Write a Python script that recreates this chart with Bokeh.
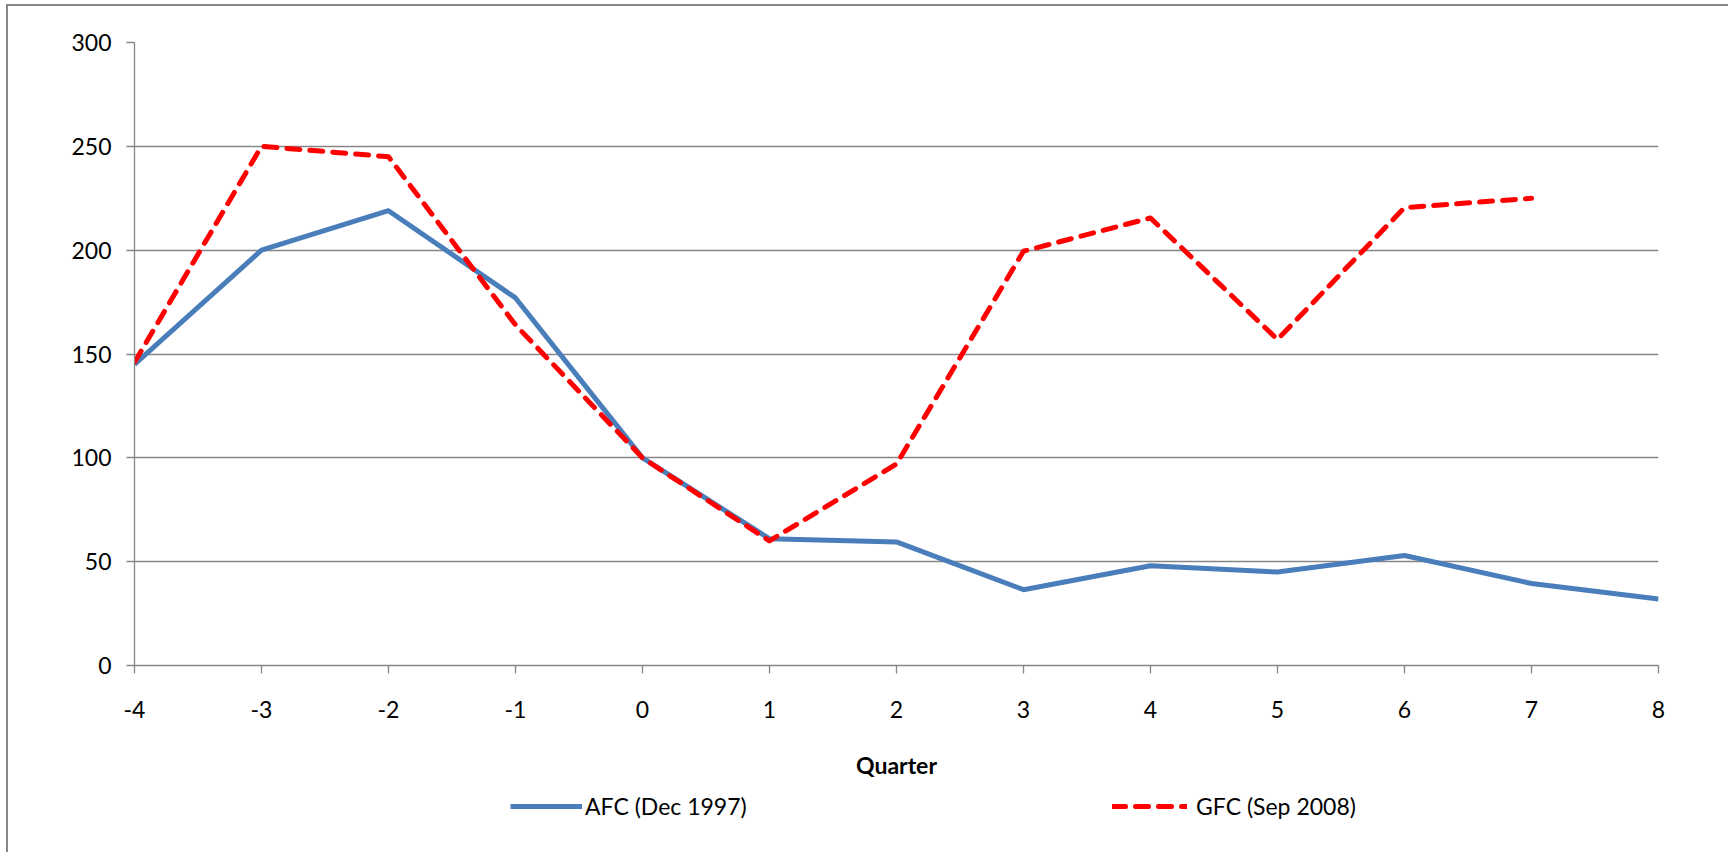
from bokeh.plotting import figure
from bokeh.models import Range1d, FixedTicker, Legend, LegendItem
from bokeh.layouts import column
from bokeh.embed import file_html
from bokeh.resources import INLINE

quarters = [-4, -3, -2, -1, 0, 1, 2, 3, 4, 5, 6, 7, 8]
afc = [145, 200, 219, 177, 100, 61, 59.5, 36.5, 48, 45, 53, 39.5, 32]
gfc_quarters = [-4, -3, -2, -1, 0, 1, 2, 3, 4, 5, 6, 7]
gfc = [146, 250, 245, 164, 100, 60, 97, 199.5, 215.5, 157, 220.5, 225]
y_ticks = [0, 50, 100, 150, 200, 250, 300]
x_label = "Quarter"
afc_name = "AFC (Dec 1997)"
gfc_name = "GFC (Sep 2008)"

FONT = "Lato"
FS = "23px"
GRID = "#868686"
AFC_STYLE = dict(line_color="#4A7EBB", line_width=5, line_join="round")
GFC_STYLE = dict(line_color="#FF0000", line_width=5, line_dash="13 10",
                 line_cap="round", line_join="round")

# ---- main chart ----
p = figure(width=1720, height=779, output_backend="svg", toolbar_location=None,
           x_range=Range1d(-4, 8), y_range=Range1d(0, 300),
           min_border_left=126, min_border_top=36, min_border_right=70, min_border_bottom=120)
p.outline_line_color = None
p.background_fill_color = "white"
p.border_fill_color = "white"

p.xgrid.grid_line_color = None
p.ygrid.grid_line_color = GRID
p.ygrid.grid_line_width = 1.3
p.ygrid.ticker = FixedTicker(ticks=y_ticks)

for ax in (p.xaxis[0], p.yaxis[0]):
    ax.axis_line_color = GRID
    ax.axis_line_width = 1.3
    ax.major_tick_line_color = GRID
    ax.major_tick_line_width = 1.3
    ax.major_tick_in = 0
    ax.major_tick_out = 8
    ax.minor_tick_line_color = None
    ax.major_label_text_font = FONT
    ax.major_label_text_font_size = FS
    ax.major_label_text_color = "black"

p.yaxis.ticker = FixedTicker(ticks=y_ticks)
p.yaxis.major_label_standoff = 15
p.xaxis.ticker = FixedTicker(ticks=quarters)
p.xaxis.major_label_overrides = {q: str(q) for q in quarters}
p.xaxis.major_label_standoff = 27
p.xaxis.axis_label = x_label
p.xaxis.axis_label_text_font = FONT
p.xaxis.axis_label_text_font_size = FS
p.xaxis.axis_label_text_font_style = "bold"
p.xaxis.axis_label_text_color = "black"
p.xaxis.axis_label_standoff = 30

p.line(quarters, afc, **AFC_STYLE)
p.line(gfc_quarters, gfc, **GFC_STYLE)

# ---- legend strip (series drawn outside its view, only the legend shows) ----
lf = figure(width=1720, height=67, output_backend="svg", toolbar_location=None,
            x_range=Range1d(1000, 1001), y_range=Range1d(1000, 1001),
            x_axis_location=None, y_axis_location=None, min_border=0)
lf.outline_line_color = None
lf.xgrid.grid_line_color = None
lf.ygrid.grid_line_color = None
lf.border_fill_color = "white"
la = lf.line(quarters, afc, **AFC_STYLE)
lg = lf.line(gfc_quarters, gfc, **GFC_STYLE)

def make_legend(item, loc, w, standoff):
    return Legend(items=[item], location=loc, orientation="horizontal",
                  glyph_width=w, glyph_height=24, label_height=24, label_standoff=standoff,
                  padding=0, margin=0, spacing=0, border_line_color=None,
                  background_fill_alpha=0, label_text_font=FONT,
                  label_text_font_size=FS, label_text_color="black")

lf.add_layout(make_legend(LegendItem(label=afc_name, renderers=[la]), (376, 32), 72, 3))
lf.add_layout(make_legend(LegendItem(label=gfc_name, renderers=[lg]), (978, 32), 75, 9))

layout = column(p, lf, spacing=0)
layout.styles = {"border-left": "2px solid #878787", "border-top": "2px solid #878787",
                 "margin-left": "6px", "margin-top": "4px"}

open("out.html", "w").write(file_html(layout, INLINE))
